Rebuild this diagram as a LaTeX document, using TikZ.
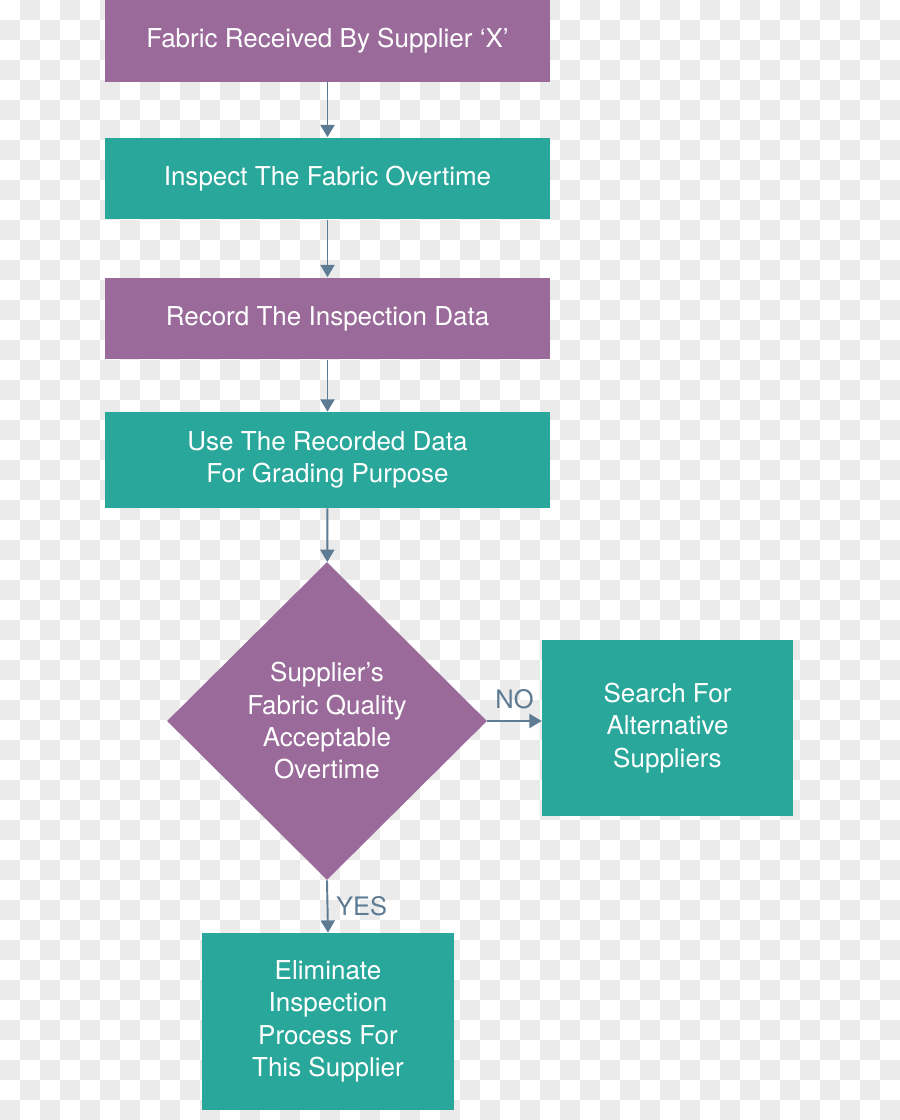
\documentclass[tikz,border=0pt]{standalone}
\usepackage{fontspec}
\setmainfont{TeX Gyre Heros}
\usepackage{tikz}
\usetikzlibrary{arrows.meta,shapes.geometric}
\definecolor{StepPurple}{HTML}{9A6B9A}
\definecolor{StepTeal}{HTML}{29A79A}
\definecolor{FlowSlate}{HTML}{5E7B94}
\definecolor{CheckGray}{HTML}{EBEBEB}

\tikzset{
  stepbox/.style={rectangle,inner sep=0pt,text=white,align=center,
    font=\fontsize{14.8}{18.4}\selectfont,minimum width=8.9cm,minimum height=1.64cm},
  decide/.style={diamond,inner sep=0pt,text=white,align=center,fill=StepPurple,
    font=\fontsize{14.8}{18.4}\selectfont,minimum width=6.4cm,minimum height=6.36cm},
  flow/.style={FlowSlate,line width=1.1pt,-{Triangle[width=8pt,length=7pt]}},
  answer/.style={FlowSlate,font=\fontsize{14.5}{16}\selectfont}
}

\begin{document}
\begin{tikzpicture}[x=0.02cm,y=-0.02cm]
  \useasboundingbox (0,0) rectangle (900,1120);
  % transparency checkerboard
  \foreach \i in {0,...,44}{
    \foreach \j in {0,...,55}{
      \pgfmathtruncatemacro{\odd}{mod(\i+\j,2)}
      \ifnum\odd=1 \fill[CheckGray] (20*\i,20*\j) rectangle ++(20,20);\fi
    }
  }
  \node[stepbox,fill=StepPurple] (received) at (327.5,41) {Fabric Received By Supplier ‘X’};
  \node[stepbox,fill=StepTeal] (inspect) at (327.5,178.5) {Inspect The Fabric Overtime};
  \node[stepbox,fill=StepPurple] (record) at (327.5,318.5) {Record The Inspection Data};
  \node[stepbox,fill=StepTeal,minimum height=1.92cm] (grading) at (327.5,460) {Use The Recorded Data\\For Grading Purpose};
  \node[decide] (quality) at (327,721) {Supplier’s\\Fabric Quality\\Acceptable\\Overtime};
  \node[stepbox,fill=StepTeal,minimum width=5.02cm,minimum height=3.52cm] (search) at (667.5,728) {Search For\\Alternative\\Suppliers};
  \node[stepbox,fill=StepTeal,minimum width=5.04cm,minimum height=3.54cm] (eliminate) at (328,1021.5) {Eliminate\\Inspection\\Process For\\This Supplier};

  \draw[flow] (received) -- (inspect);
  \draw[flow] (inspect) -- (record);
  \draw[flow] (record) -- (grading);
  \draw[flow] (grading) -- (quality);
  \draw[flow] (quality.east) -- (quality.east -| search.west) node[answer,midway,above=3pt] {NO};
  \draw[flow] (quality.south) -- (eliminate.north) node[answer,midway,right=1pt] {YES};
\end{tikzpicture}
\end{document}
